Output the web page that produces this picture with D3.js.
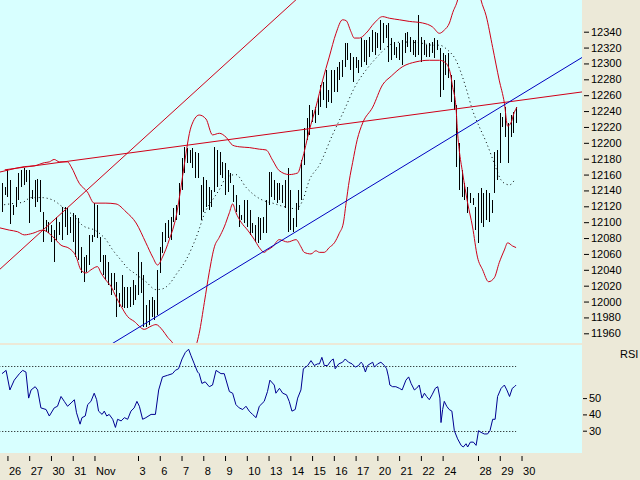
<!DOCTYPE html>
<html>
<head>
<meta charset="utf-8">
<script src="https://cdn.jsdelivr.net/npm/d3@7"></script>
<style>
  body { margin: 0; background: #ece9d8; }
  text { font-family: "Liberation Sans", Arial, sans-serif; font-size: 11px; fill: #000; }
</style>
</head>
<body>
<svg id="chart" width="640" height="480"></svg>
<script>
// hourly bars, index 0 = last bars of Oct 25
var highs = [12149,12144,12167,12153,12122,12144,12162,12166,12168,12166,
  12166,12141,12153,12154,12153,12113,12103,12100,12096,12090,
  12107,12100,12119,12119,12118,12107,12112,12109,12105,12069,
  12056,12059,12084,12084,12124,12122,12081,12059,12059,12050,
  12036,12036,12025,12011,12034,12018,12018,12018,12027,12021,
  12062,12050,12034,11996,12002,12006,12002,12040,12069,12088,
  12099,12103,12107,12118,12122,12149,12181,12195,12193,12191,
  12193,12188,12187,12147,12157,12153,12144,12141,12195,12191,
  12188,12176,12175,12166,12162,12147,12134,12122,12109,12128,
  12128,12115,12099,12096,12107,12105,12107,12128,12163,12163,
  12153,12149,12149,12147,12153,12168,12141,12105,12124,12141,
  12178,12219,12231,12248,12241,12245,12258,12273,12277,12292,
  12267,12292,12292,12296,12302,12304,12326,12326,12313,12308,
  12308,12304,12332,12330,12330,12333,12342,12340,12338,12355,
  12351,12349,12351,12332,12327,12321,12326,12330,12338,12340,
  12333,12330,12330,12361,12333,12330,12323,12326,12327,12332,
  12330,12320,12313,12311,12313,12286,12279,12248,12200,12166,
  12149,12144,12137,12130,12119,12137,12143,12137,12141,12137,
  12128,12188,12191,12238,12233,12245,12225,12235,12239,12245];

var lows = [12113,12134,12132,12098,12109,12119,12128,12144,12147,12151,
  12099,12129,12119,12125,12113,12075,12088,12086,12075,12050,
  12078,12084,12078,12094,12084,12086,12075,12056,12052,12036,
  12025,12037,12046,12075,12081,12080,12050,12034,12027,12021,
  12008,12015,11981,11993,11993,11992,11992,11993,11996,12002,
  12008,12011,11968,11968,11970,11981,11977,11983,12036,12061,
  12075,12080,12078,12100,12103,12109,12141,12162,12175,12175,
  12168,12156,12156,12103,12113,12119,12115,12119,12138,12144,
  12160,12156,12134,12138,12149,12125,12113,12094,12103,12099,
  12094,12084,12086,12075,12074,12078,12086,12086,12122,12132,
  12128,12124,12128,12124,12118,12088,12090,12088,12094,12115,
  12128,12172,12204,12210,12226,12225,12235,12245,12254,12244,
  12251,12250,12264,12264,12279,12283,12296,12304,12292,12277,
  12294,12288,12296,12302,12298,12308,12314,12311,12320,12317,
  12326,12332,12302,12304,12311,12307,12304,12298,12313,12321,
  12314,12311,12308,12311,12302,12311,12308,12308,12313,12307,
  12317,12258,12267,12286,12282,12251,12241,12170,12141,12132,
  12128,12112,12124,12122,12090,12074,12099,12094,12103,12100,
  12112,12137,12153,12175,12220,12207,12175,12207,12212,12225];

// bollinger bands: [bar, price]
var upperBand = [[-1,12163],[2.7,12166],[8.2,12170],[11.9,12171],[15.6,12175],[17.4,12176],[19.2,12179],[21.1,12176],[24.1,12176],[25.4,12170],[28.4,12149],[31.4,12138],[33.9,12124],[38.2,12124],[41.9,12123],[45.6,12113],[49.3,12099],[52.9,12074],[55.4,12056],[57.2,12046],[59,12056],[61.5,12078],[64,12107],[65.8,12144],[67,12172],[69.5,12220],[72.5,12235],[75,12230],[77.4,12210],[79.9,12212],[82.4,12207],[84.8,12197],[87.2,12195],[90.9,12194],[94.6,12192],[97.1,12191],[99.5,12178],[101.9,12165],[105.6,12160],[108.7,12162],[110.3,12178],[113,12216],[115.4,12245],[117.9,12279],[120.3,12308],[122.8,12338],[125.2,12355],[126.5,12354],[128.3,12340],[129.5,12332],[131.4,12332],[133.8,12338],[136.9,12351],[139.9,12359],[142.4,12357],[146.1,12355],[149.7,12353],[154.6,12351],[158.3,12346],[160.8,12338],[162.6,12342],[164.5,12351],[165.7,12364],[167.5,12380],[169.6,12418],[171.8,12430],[174,12418],[176.1,12380],[178,12360],[180.4,12320],[182.8,12279],[184.7,12250],[185.9,12221],[187.1,12225],[188.3,12238],[189.3,12245]];

var middleBand = [[0.8,12122],[5.1,12124],[7.6,12125],[10.7,12131],[14.3,12131],[18.6,12128],[22.3,12119],[26,12109],[29.6,12096],[34.6,12089],[38.2,12078],[40.7,12065],[43.8,12052],[46.2,12042],[48.6,12036],[52.9,12025],[56.6,12015],[59,12016],[61.5,12022],[64,12034],[67.6,12052],[71.3,12080],[75,12115],[77.4,12128],[79.9,12141],[82.4,12156],[86,12160],[89.7,12144],[92.8,12134],[97.1,12126],[99.5,12124],[103.2,12120],[108.1,12117],[110.5,12127],[113,12153],[116.7,12172],[121.5,12210],[125.8,12241],[129.5,12269],[133.9,12292],[137.6,12307],[141.3,12320],[143.5,12325],[147.3,12327],[153.4,12326],[158.3,12323],[160.8,12323],[163.8,12317],[166.9,12304],[168.8,12288],[170.6,12269],[173,12241],[175.5,12220],[178,12201],[179.8,12185],[181.6,12168],[183.5,12153],[184.7,12149],[186.6,12147],[188.4,12153]];

var lowerBand = [[-1,12093],[2.7,12090],[5.7,12088],[8.2,12084],[11.3,12086],[14.9,12090],[18.6,12082],[21.7,12071],[24.7,12067],[27.2,12057],[29,12040],[30.9,12036],[32.7,12040],[35.1,12044],[36.4,12036],[38.2,12027],[40.1,12019],[41.9,12006],[43.8,11994],[46.2,11981],[48.6,11975],[52.3,11965],[54.8,11969],[56.6,11971],[59,11964],[60.9,11955],[62.7,11948],[65.2,11931],[68.9,11926],[71.4,11945],[72.5,11960],[74.4,11999],[76.2,12037],[78.1,12069],[79.9,12081],[81.7,12094],[83.6,12112],[84.8,12123],[86,12112],[87.9,12100],[90.3,12090],[92.8,12078],[94.6,12068],[96.4,12062],[97.6,12065],[99.5,12069],[101.9,12078],[105,12075],[108.1,12078],[109.9,12069],[111.1,12062],[113.6,12060],[115.4,12064],[116.7,12062],[118.5,12062],[120.3,12068],[122.2,12074],[124,12086],[125.5,12099],[126.5,12124],[127.7,12153],[128.9,12175],[130.6,12204],[132.6,12225],[136.3,12245],[139.9,12273],[143.1,12284],[147.3,12296],[152.2,12302],[157.1,12304],[160.8,12304],[162.6,12302],[164.5,12292],[165.7,12270],[166.9,12245],[167.5,12212],[168.1,12191],[169.3,12163],[171.2,12124],[173,12094],[174.8,12056],[176.7,12040],[178.9,12025],[181,12030],[182.8,12049],[184.7,12065],[185.9,12074],[187.7,12070],[189,12068]];

// RSI: [bar, rsi]
var rsi = [[0,65],[1.5,67],[2.9,55],[4.5,61],[6.4,65],[7.6,67],[8.8,66],[9.8,50],[10.7,55],[12.2,57],[13.1,55],[14.3,44],[16.2,43],[17.4,39],[19.2,44],[20.4,45],[21.7,51],[22.9,48],[24.1,45],[25.4,47],[26.6,49],[27.4,41],[28.7,34],[29.4,38],[30.6,39],[31.5,46],[32.7,48],[33.9,53],[34.8,49],[35.5,42],[36.8,40],[37.6,42],[38.5,39],[39.4,40],[40.7,37],[41.7,32],[42.5,37],[43.8,36],[45,38],[46.2,37],[47.4,42],[48.6,44],[49.6,48],[50.5,45],[51.7,37],[52.9,38],[54.8,40],[56.4,40],[57.6,55],[59,63],[60.9,64],[62.7,65],[63.7,67],[64.9,68],[66.2,74],[67.4,78],[68.6,80],[69.5,76],[70.7,71],[71.9,66],[72.5,65],[73.5,59],[74.7,60],[76.2,57],[77.4,58],[78.7,67],[80.5,65],[81.7,65],[83.6,54],[84.8,53],[86,46],[87.2,44],[88.5,43],[89.7,45],[90.9,42],[92.1,40],[93.4,38],[94.6,45],[96.4,48],[97.6,54],[98.5,61],[100.1,58],[100.7,53],[102,56],[103.2,53],[104.6,52],[105.6,48],[106.6,42],[107.8,43],[108.7,50],[109.9,55],[110.8,68],[112.4,70],[113.6,73],[114.8,70],[116,71],[116.7,71],[117.6,75],[118.5,70],[119.7,70],[121,73],[121.8,74],[122.5,68],[123.8,71],[125.2,72],[126.2,74],[127.4,72],[128.7,71],[129.9,69],[131.1,70],[132,72],[132.6,71],[133.6,66],[134.4,70],[135.3,71],[136.3,72],[136.9,69],[138.1,71],[139.3,72],[140.6,70],[141.4,68],[142.1,63],[142.6,58],[143.6,57],[144.8,57],[146.1,56],[147.1,55],[148.5,61],[149.5,63],[150.4,59],[151.6,55],[152.4,56],[153.4,58],[154.4,50],[155.3,53],[156.1,51],[157.1,49],[158.1,52],[159.3,56],[160.2,57],[161,50],[161.4,35],[162,43],[162.6,48],[163.5,45],[164.4,43],[165.4,42],[166.3,30],[167.5,25],[168.8,21],[169.6,20],[170.6,22],[171.2,20],[172.2,23],[173.3,23],[174.3,21],[175.2,30],[176.1,29],[177.3,28],[178.5,28],[179.4,30],[180.4,37],[181.3,37],[182.2,51],[183.5,56],[184.7,58],[185.6,55],[186.6,51],[187.6,56],[188.4,57],[189,58]];

// hand drawn trend lines, two points each [bar, price]
var trendRedSteep = [[-1,12040],[108,12380]];
var trendRedFlat = [[1,12166],[213,12264]];
var trendBlue = [[41,11948],[213,12307]];

var priceTicks = [12340,12320,12300,12280,12260,12240,12220,12200,12180,12160,12140,12120,12100,12080,12060,12040,12020,12000,11980,11960];
var rsiTicks = [50,40,30];
var rsiLevels = [70,30];
var dayLabels = ["26","27","30","31","Nov","3","6","7","8","9","10","13","14","15","16","17","20","21","22","24","28","29","30"];
var dayBars = [2,10,18,26,34,50,58,66,74,82,90,98,106,114,122,130,138,146,154,162,175,183,191];

var svg = d3.select("#chart");
var plotW = 582;

var x = d3.scaleLinear().domain([0, 189]).range([2, 2 + 2.72 * 189]);
var y = d3.scaleLinear().domain([11960, 12340]).range([333.3, 31.7]);
var yr = d3.scaleLinear().domain([30, 70]).range([430.7, 365.5]);

var defs = svg.append("defs");
defs.append("clipPath").attr("id", "clipMain")
  .append("rect").attr("x", 0).attr("y", 0).attr("width", plotW).attr("height", 343);
defs.append("clipPath").attr("id", "clipRsi")
  .append("rect").attr("x", 0).attr("y", 345).attr("width", plotW).attr("height", 108);

// panels
svg.append("rect").attr("x", 0).attr("y", 0).attr("width", plotW).attr("height", 343).attr("fill", "#d8ffff");
svg.append("rect").attr("x", 0).attr("y", 345).attr("width", plotW).attr("height", 108).attr("fill", "#d8ffff");

var main = svg.append("g").attr("clip-path", "url(#clipMain)");

// bars
main.append("g")
  .selectAll("rect")
  .data(highs)
  .enter()
  .append("rect")
    .attr("x", function (d, i) { return Math.round(x(i)); })
    .attr("y", function (d) { return y(d); })
    .attr("width", 1)
    .attr("height", function (d, i) { return Math.max(1, y(lows[i]) - y(d)); })
    .attr("fill", "#000")
    .attr("shape-rendering", "crispEdges");

var bandLine = d3.line()
  .x(function (d) { return x(d[0]); })
  .y(function (d) { return y(d[1]); })
  .curve(d3.curveMonotoneX);

main.append("path").datum(middleBand)
  .attr("d", bandLine)
  .attr("fill", "none").attr("stroke", "#000").attr("stroke-width", 1)
  .attr("stroke-dasharray", "1,3");

[upperBand, lowerBand].forEach(function (b) {
  main.append("path").datum(b)
    .attr("d", bandLine)
    .attr("fill", "none").attr("stroke", "#d00018").attr("stroke-width", 1);
});

// trend lines extended across the panel
function extend(p, from, to) {
  var k = (p[1][1] - p[0][1]) / (p[1][0] - p[0][0]);
  return [[from, p[0][1] + k * (from - p[0][0])], [to, p[0][1] + k * (to - p[0][0])]];
}
var straight = d3.line()
  .x(function (d) { return x(d[0]); })
  .y(function (d) { return y(d[1]); });

main.append("path").datum(extend(trendRedSteep, -1, 120))
  .attr("d", straight).attr("fill", "none").attr("stroke", "#d00018");
main.append("path").datum(extend(trendRedFlat, 1, 215))
  .attr("d", straight).attr("fill", "none").attr("stroke", "#d00018");
main.append("path").datum(extend(trendBlue, 20, 215))
  .attr("d", straight).attr("fill", "none").attr("stroke", "#0000c0");

// price axis
var yAxis = svg.append("g")
  .attr("transform", "translate(584,0)")
  .call(d3.axisRight(y).tickValues(priceTicks).tickSize(5).tickPadding(2).tickFormat(d3.format("d")));
yAxis.select(".domain").remove();
yAxis.selectAll("text").attr("font-size", 11).attr("font-family", "Liberation Sans, Arial, sans-serif");

// RSI panel
var low = svg.append("g").attr("clip-path", "url(#clipRsi)");
low.selectAll(".lvl")
  .data(rsiLevels)
  .enter()
  .append("line")
    .attr("x1", x(-1)).attr("x2", x(189))
    .attr("y1", function (d) { return Math.round(yr(d)) + 0.5; })
    .attr("y2", function (d) { return Math.round(yr(d)) + 0.5; })
    .attr("stroke", "#000").attr("stroke-dasharray", "1,2");

low.append("path").datum(rsi)
  .attr("d", d3.line()
    .x(function (d) { return x(d[0]); })
    .y(function (d) { return yr(d[1]); }))
  .attr("fill", "none").attr("stroke", "#000090").attr("stroke-width", 1);

var rAxis = svg.append("g")
  .attr("transform", "translate(583,0)")
  .call(d3.axisRight(yr).tickValues(rsiTicks).tickSize(4).tickPadding(2));
rAxis.select(".domain").remove();
rAxis.selectAll("text").attr("font-size", 11).attr("font-family", "Liberation Sans, Arial, sans-serif");

svg.append("text").attr("x", 620).attr("y", 358).text("RSI");

// date axis
var xAxis = svg.append("g")
  .attr("transform", "translate(0,456)")
  .call(d3.axisBottom(x).tickValues(dayBars).tickSize(5)
    .tickFormat(function (d, i) { return dayLabels[i]; }));
xAxis.select(".domain").remove();
xAxis.selectAll("text")
  .attr("text-anchor", "start")
  .attr("x", 1).attr("y", 19).attr("dy", 0)
  .attr("font-size", 11).attr("font-family", "Liberation Sans, Arial, sans-serif");
</script>
</body>
</html>
